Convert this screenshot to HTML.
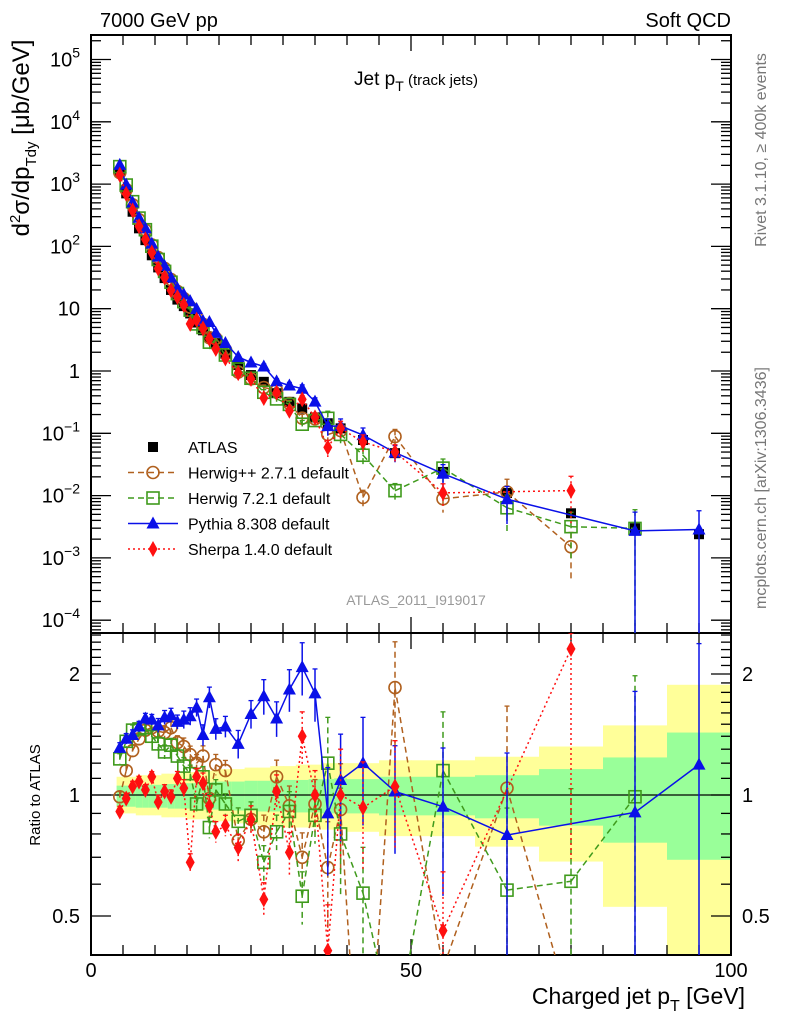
<!DOCTYPE html>
<html><head><meta charset="utf-8"><style>
html,body{margin:0;padding:0;background:#fff;width:786px;height:1024px;overflow:hidden;}
svg{display:block;font-family:"Liberation Sans",sans-serif;overflow:hidden;}
</style></head><body>
<svg id="c" width="786" height="1024" viewBox="0 0 786 1024" xmlns="http://www.w3.org/2000/svg">
<defs>
<clipPath id="cm"><rect x="91" y="35" width="640" height="598"/></clipPath>
<clipPath id="cr"><rect x="91" y="633" width="640" height="322"/></clipPath>
</defs>
<text x="100" y="27" font-size="20">7000 GeV pp</text>
<text x="731" y="27" font-size="20" text-anchor="end">Soft QCD</text>
<text x="416" y="85" font-size="19" text-anchor="middle">Jet p<tspan font-size="14" dy="6">T</tspan><tspan font-size="15" dy="-6"> (track jets)</tspan></text>
<text transform="translate(29,138) rotate(-90)" font-size="24" text-anchor="middle">d<tspan font-size="15" dy="-9">2</tspan><tspan dy="9">σ/dp</tspan><tspan font-size="15" dy="7">Tdy</tspan><tspan dy="-7"> [μb/GeV]</tspan></text>
<text transform="translate(40,795) rotate(-90)" font-size="15" text-anchor="middle">Ratio to ATLAS</text>
<text transform="translate(766,150) rotate(-90)" font-size="16" fill="#777" text-anchor="middle">Rivet 3.1.10, ≥ 400k events</text>
<text transform="translate(766,488) rotate(-90)" font-size="16" fill="#777" text-anchor="middle">mcplots.cern.ch [arXiv:1306.3436]</text>
<text x="416" y="605" font-size="14" fill="#999" text-anchor="middle">ATLAS_2011_I919017</text>
<text x="745" y="1004" font-size="23" text-anchor="end">Charged jet p<tspan font-size="16" dy="7">T</tspan><tspan dy="-7"> [GeV]</tspan></text>
<g id="bands" clip-path="url(#cr)"></g>
<g id="axes"></g>
<g id="mainMarks" clip-path="url(#cm)"></g>
<g id="ratioMarks" clip-path="url(#cr)"></g>
<g id="legend"></g>
</svg>
<script>
const centers=[4.5,5.5,6.5,7.5,8.5,9.5,10.5,11.5,12.5,13.5,14.5,15.5,16.5,17.5,18.5,19.5,21,23,25,27,29,31,33,35,37,39,42.5,47.5,55,65,75,85,95];
const edges=[4,5,6,7,8,9,10,11,12,13,14,15,16,17,18,19,20,22,24,26,28,30,32,34,36,38,40,45,50,60,70,80,90,100];
const atlas=[1550,710,360,195,126,72,46,31,20,14,11,8.4,6.0,4.5,3.5,2.8,1.9,1.25,0.86,0.67,0.44,0.32,0.25,0.18,0.145,0.12,0.078,0.048,0.024,0.011,0.0052,0.0030,0.0024];
const ratioHerwigPP=[0.99,1.15,1.29,1.38,1.45,1.47,1.44,1.43,1.47,1.35,1.32,1.26,1.20,1.25,0.98,1.19,1.15,0.77,0.87,0.81,1.11,0.94,0.70,0.95,0.66,0.92,0.12,1.85,0.37,1.04,0.29,null,null];
const ratioHerwig7=[1.23,1.36,1.45,1.46,1.47,1.40,1.34,1.28,1.33,1.25,1.18,1.13,0.95,1.11,0.83,1.03,0.95,0.86,0.89,0.68,0.81,0.91,0.56,0.89,1.20,0.80,0.57,0.25,1.15,0.58,0.61,0.99,null];
const ratioPythia=[1.31,1.38,1.41,1.48,1.55,1.54,1.49,1.56,1.58,1.52,1.54,1.57,1.65,1.41,1.75,1.46,1.48,1.34,1.59,1.76,1.55,1.83,2.08,1.79,0.90,1.09,1.20,1.02,0.935,0.795,null,0.905,1.19];
const ratioSherpa=[0.91,0.98,1.05,1.08,1.03,1.11,0.96,1.02,0.99,1.10,1.04,0.68,1.11,1.07,0.94,0.81,0.84,0.74,0.87,0.55,1.02,0.72,1.40,1.00,0.41,1.00,0.93,1.05,0.46,null,2.31,null,null];
const errMC=[0.03,0.03,0.03,0.03,0.03,0.03,0.04,0.04,0.04,0.04,0.05,0.05,0.05,0.06,0.06,0.06,0.06,0.08,0.08,0.1,0.1,0.12,0.15,0.15,0.3,0.3,0.3,0.3,0.4,0.6,0.7,1.0,1.0];
const yelUp=[1.11,1.11,1.11,1.12,1.12,1.12,1.12,1.13,1.13,1.13,1.14,1.14,1.14,1.15,1.15,1.15,1.16,1.16,1.17,1.17,1.18,1.18,1.19,1.19,1.2,1.2,1.2,1.22,1.22,1.245,1.32,1.49,1.88];
const yelLo=[0.90,0.90,0.90,0.89,0.89,0.89,0.89,0.88,0.88,0.88,0.88,0.87,0.87,0.87,0.87,0.86,0.86,0.85,0.85,0.84,0.84,0.83,0.83,0.83,0.82,0.82,0.81,0.79,0.79,0.744,0.683,0.527,0.3];
const grnUp=[1.055,1.055,1.055,1.06,1.06,1.06,1.06,1.065,1.065,1.065,1.07,1.07,1.07,1.075,1.075,1.08,1.08,1.08,1.085,1.085,1.09,1.09,1.09,1.095,1.095,1.1,1.095,1.11,1.11,1.12,1.16,1.24,1.43];
const grnLo=[0.935,0.935,0.935,0.93,0.93,0.93,0.93,0.93,0.925,0.925,0.925,0.925,0.92,0.92,0.92,0.92,0.92,0.915,0.915,0.91,0.91,0.91,0.905,0.905,0.9,0.9,0.9,0.89,0.89,0.875,0.839,0.761,0.69];
const xTicks=[0,50,100];
const yMainTicks=[-4,-3,-2,-1,0,1,2,3,4,5];
const yRatioLabels=[0.5,1,2];

const NS="http://www.w3.org/2000/svg";
const X=v=>91+6.4*v, Ym=v=>371-62.3*Math.log10(v), Yr=r=>795-402*Math.log10(r);
function mk(tag,attrs,parent){const e=document.createElementNS(NS,tag);for(const k in attrs)e.setAttribute(k,attrs[k]);parent.appendChild(e);return e;}
const axes=document.getElementById('axes'),bands=document.getElementById('bands'),mm=document.getElementById('mainMarks'),rm=document.getElementById('ratioMarks'),lg=document.getElementById('legend');

for(let i=0;i<centers.length;i++){
  const x0=X(edges[i]),x1=X(edges[i+1]);
  const yb=Math.min(Yr(yelLo[i]),956);
  let r=mk('rect',{x:x0,y:Yr(yelUp[i]),width:x1-x0+0.5,height:yb-Yr(yelUp[i]),fill:'#ffff99'},bands);
  
  
  let g=mk('rect',{x:x0,y:Yr(grnUp[i]),width:x1-x0+0.5,height:Yr(grnLo[i])-Yr(grnUp[i]),fill:'#99ff99'},bands);
  
  
}
mk('line',{x1:91,x2:731,y1:Yr(1),y2:Yr(1),stroke:'#000','stroke-width':1.3},axes);

let f1=mk('rect',{x:91,y:35,width:640,height:598,fill:'none',stroke:'#000','stroke-width':2},axes);


let f2=mk('rect',{x:91,y:633,width:640,height:322,fill:'none',stroke:'#000','stroke-width':2},axes);



for(let v=0;v<=100;v+=5){
  const L=(v%50===0)?16:10,x=X(v);
  for(const [yb,dir] of [[955,-1],[633,-1],[633,1],[35,1]]) mk('line',{x1:x,x2:x,y1:yb,y2:yb+dir*L,stroke:'#000','stroke-width':1.3},axes);
}
xTicks.forEach(v=>{const t=mk('text',{x:X(v),y:977,'font-size':20,'text-anchor':'middle'},axes);t.textContent=v;

});
for(let d=-5;d<=5;d++){for(let k=1;k<=9;k++){const v=k*Math.pow(10,d),y=Ym(v);if(y<36||y>632)continue;const L=k===1?20:10;
mk('line',{x1:91,x2:91+L,y1:y,y2:y,stroke:'#000','stroke-width':1.3},axes);mk('line',{x1:731,x2:731-L,y1:y,y2:y,stroke:'#000','stroke-width':1.3},axes);}}
yMainTicks.forEach(d=>{const y=Ym(Math.pow(10,d))+7;const t=mk('text',{x:80,y:y,'font-size':20,'text-anchor':'end'},axes);


if(d===0)t.textContent='1';else if(d===1)t.textContent='10';else{t.textContent='10';const s=mk('tspan',{'font-size':14,dy:-9},t);s.textContent=String(d).replace('-','−');}});
const rt=[0.4,0.5,0.6,0.7,0.8,0.9,1,1.1,1.2,1.3,1.4,1.5,1.6,1.7,1.8,1.9,2,2.1,2.2,2.3,2.4,2.5];
rt.forEach(r=>{const y=Yr(r);if(y<634||y>954)return;const L=(r===0.5||r===1||r===2)?20:10;
mk('line',{x1:91,x2:91+L,y1:y,y2:y,stroke:'#000','stroke-width':1.3},axes);mk('line',{x1:731,x2:731-L,y1:y,y2:y,stroke:'#000','stroke-width':1.3},axes);});
yRatioLabels.forEach(r=>{const y=Yr(r)+7;let t=mk('text',{x:80,y:y,'font-size':20,'text-anchor':'end'},axes);t.textContent=r;


let t2=mk('text',{x:742,y:y,'font-size':20},axes);t2.textContent=r;

});

function marker(type,x,y,color,parent){
  let e;
  if(type==='sq') e=mk('rect',{x:x-5,y:y-5,width:10,height:10,fill:'#000'},parent);
  else if(type==='circ') e=mk('circle',{cx:x,cy:y,r:6,fill:'none',stroke:color,'stroke-width':1.6},parent);
  else if(type==='osq') e=mk('rect',{x:x-6,y:y-6,width:12,height:12,fill:'none',stroke:color,'stroke-width':1.6},parent);
  else if(type==='tri') e=mk('polygon',{points:`${x},${y-7} ${x-6.5},${y+5} ${x+6.5},${y+5}`,fill:color},parent);
  else e=mk('polygon',{points:`${x},${y-8} ${x-4.5},${y} ${x},${y+8} ${x+4.5},${y}`,fill:color},parent);
  return e;
}
// clip a segment to y range [y0,y1]
function clipSeg(ax,ay,bx,by,y0,y1){
  let t0=0,t1=1;const dy=by-ay;
  if(dy===0){if(ay<y0||ay>y1)return null;}
  else{let ta=(y0-ay)/dy,tb=(y1-ay)/dy;if(ta>tb)[ta,tb]=[tb,ta];t0=Math.max(t0,ta);t1=Math.min(t1,tb);if(t0>t1)return null;}
  return [ax+(bx-ax)*t0,ay+dy*t0,ax+(bx-ax)*t1,ay+dy*t1];
}
const series=[
 {name:'herwigpp',ratio:ratioHerwigPP,color:'#b0601e',dash:'6,4',m:'circ'},
 {name:'herwig7',ratio:ratioHerwig7,color:'#3f9a1c',dash:'6,4',m:'osq'},
 {name:'pythia',ratio:ratioPythia,color:'#0a10e8',dash:'',m:'tri'},
 {name:'sherpa',ratio:ratioSherpa,color:'#ff1010',dash:'2,3',m:'dia'}
];
atlas.forEach((v,i)=>{const e=marker('sq',X(centers[i]),Ym(v),'#000',mm);

});
series.forEach(s=>{
  for(const panel of ['main','ratio']){
    const g=panel==='main'?mm:rm;
    const val=panel==='main'?(i=>atlas[i]*s.ratio[i]):(i=>s.ratio[i]);
    const Yv=panel==='main'?Ym:Yr;
    const top=panel==='main'?35:633, bot=panel==='main'?633:955;
    let pts=[];s.ratio.forEach((r,i)=>{if(r!==null)pts.push([X(centers[i]),Yv(val(i))]);});
    let d='';
    for(let k=0;k+1<pts.length;k++){const c=clipSeg(pts[k][0],pts[k][1],pts[k+1][0],pts[k+1][1],top,bot);
      if(c)d+=`M${c[0].toFixed(1)},${c[1].toFixed(1)}L${c[2].toFixed(1)},${c[3].toFixed(1)}`;}
    const pl=mk('path',{d:d,fill:'none',stroke:s.color,'stroke-width':1.5,'stroke-dasharray':s.dash},g);
    
    
    s.ratio.forEach((r,i)=>{if(r===null)return;const x=X(centers[i]);const v=val(i);const yc=Yv(v);
      if(yc>bot+10||yc<top-10)return;
      const hi=Math.max(Yv(v*(1+errMC[i])),top),lo=Math.min(Yv(Math.max(v*(1-errMC[i]),1e-9)),bot);
      mk('line',{x1:x,x2:x,y1:hi,y2:lo,stroke:s.color,'stroke-width':1.5,'stroke-dasharray':s.dash},g);
      mk('line',{x1:x-2.5,x2:x+2.5,y1:hi,y2:hi,stroke:s.color,'stroke-width':1.3},g);
      const m=marker(s.m,x,yc,s.color,g);
      
      });
  }
});
const leg=[['ATLAS','sq','#000',''],['Herwig++ 2.7.1 default','circ','#b0601e','6,4'],['Herwig 7.2.1 default','osq','#3f9a1c','6,4'],['Pythia 8.308 default','tri','#0a10e8',''],['Sherpa 1.4.0 default','dia','#ff1010','2,3']];
leg.forEach((L,k)=>{const y=447+k*25.5;const g=mk('g',{},lg);
  
  
  if(k>0)mk('line',{x1:128,x2:178,y1:y,y2:y,stroke:L[2],'stroke-width':1.5,'stroke-dasharray':L[3]},g);
  marker(L[1],153,y,L[2],g);
  const t=mk('text',{x:188,y:y+6,'font-size':16},g);t.textContent=L[0];});
</script>
</body></html>
